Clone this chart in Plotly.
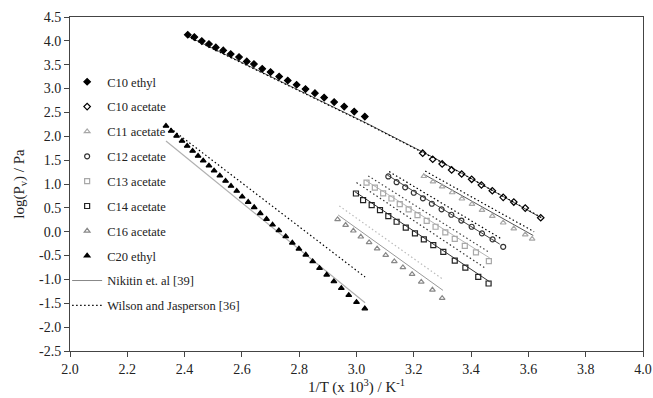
import plotly.graph_objects as go

# ---------------- data ----------------
c10e_x = [2.411, 2.434, 2.460, 2.485, 2.509, 2.535, 2.561, 2.590, 2.617, 2.642, 2.671,
          2.700, 2.730, 2.760, 2.791, 2.822, 2.855, 2.887, 2.922, 2.957, 2.992, 3.029]
c10e_y = [4.128, 4.080, 3.996, 3.933, 3.862, 3.799, 3.723, 3.660, 3.568, 3.513, 3.414,
          3.345, 3.253, 3.169, 3.080, 2.990, 2.904, 2.812, 2.718, 2.623, 2.518, 2.413]

c10a_x = [3.231, 3.266, 3.299, 3.332, 3.367, 3.402, 3.436, 3.474, 3.512, 3.549, 3.589, 3.643]
c10a_y = [1.645, 1.519, 1.420, 1.294, 1.210, 1.099, 0.979, 0.859, 0.721, 0.622, 0.496, 0.293]

c11_x = [3.235, 3.267, 3.299, 3.334, 3.368, 3.403, 3.438, 3.474, 3.512, 3.549, 3.589, 3.613]
c11_y = [1.162, 1.048, 0.944, 0.822, 0.691, 0.580, 0.454, 0.328, 0.188, 0.066, -0.060, -0.150]

c12_x = [3.111, 3.140, 3.170, 3.200, 3.232, 3.263, 3.297, 3.331, 3.366, 3.402, 3.438, 3.475, 3.512]
c12_y = [1.158, 1.038, 0.931, 0.817, 0.700, 0.586, 0.469, 0.356, 0.234, 0.104, -0.035, -0.161, -0.316]

c13_x = [3.035, 3.064, 3.093, 3.122, 3.151, 3.182, 3.213, 3.245, 3.276, 3.310, 3.343, 3.378, 3.417, 3.462]
c13_y = [1.027, 0.922, 0.805, 0.696, 0.580, 0.469, 0.349, 0.227, 0.104, -0.014, -0.148, -0.295, -0.434, -0.617]

c14_x = [2.998, 3.023, 3.053, 3.082, 3.111, 3.140, 3.172, 3.204, 3.235, 3.268, 3.303, 3.343, 3.380, 3.425, 3.461]
c14_y = [0.801, 0.664, 0.559, 0.454, 0.328, 0.209, 0.087, -0.035, -0.159, -0.281, -0.421, -0.606, -0.753, -0.946, -1.085]

c16_x = [2.934, 2.962, 2.989, 3.015, 3.044, 3.072, 3.102, 3.132, 3.162, 3.194, 3.226, 3.265, 3.299]
c16_y = [0.259, 0.139, 0.020, -0.106, -0.224, -0.354, -0.491, -0.623, -0.749, -0.889, -1.051, -1.217, -1.393]

c20_x = [2.335, 2.353, 2.372, 2.391, 2.409, 2.428, 2.447, 2.465, 2.485, 2.503, 2.523,
         2.543, 2.562, 2.582, 2.601, 2.622, 2.643, 2.664, 2.686, 2.707, 2.729, 2.753,
         2.776, 2.799, 2.823, 2.847, 2.871, 2.896, 2.921, 2.947, 2.973, 3.000, 3.029]
c20_y = [2.218, 2.113, 2.008, 1.903, 1.798, 1.693, 1.588, 1.489, 1.384, 1.279, 1.174,
         1.063, 0.958, 0.853, 0.733, 0.622, 0.511, 0.385, 0.265, 0.146, 0.028, -0.098,
         -0.232, -0.358, -0.484, -0.623, -0.763, -0.904, -1.043, -1.183, -1.330, -1.477, -1.610]

# Nikitin et al. (solid) predictions
nik_c10_x = [2.41, 2.77, 3.03, 3.28, 3.645]
nik_c10_y = [4.10, 3.04, 2.29, 1.52, 0.29]
nik_c11_x = [3.233, 3.617]; nik_c11_y = [1.21, -0.08]
nik_c12_x = [3.107, 3.500]; nik_c12_y = [1.19, -0.26]
nik_c13_x = [3.033, 3.465]; nik_c13_y = [1.07, -0.55]
nik_c14_x = [2.994, 3.465]; nik_c14_y = [0.84, -1.05]
nik_c16_x = [2.936, 3.302]; nik_c16_y = [0.35, -1.23]
nik_c20_x = [2.335, 3.030]; nik_c20_y = [1.90, -1.49]

# Wilson and Jasperson (dotted) predictions
wil_c10_x = [2.41, 2.77, 3.03, 3.28, 3.645]
wil_c10_y = [4.09, 3.03, 2.28, 1.51, 0.30]
wil_c11_x = [3.240, 3.620]; wil_c11_y = [1.27, 0.00]
wil_c12_x = [3.114, 3.506]; wil_c12_y = [1.26, -0.15]
wil_c13_x = [3.041, 3.460]; wil_c13_y = [1.17, -0.42]
wil_c14_x = [3.000, 3.446]; wil_c14_y = [1.03, -0.75]
wil_c16_x = [2.940, 3.300]; wil_c16_y = [0.54, -0.99]
wil_c20_x = [2.350, 3.030]; wil_c20_y = [2.17, -0.95]

x_ticks = [2.0, 2.2, 2.4, 2.6, 2.8, 3.0, 3.2, 3.4, 3.6, 3.8, 4.0]
x_tick_labels = ["2.0", "2.2", "2.4", "2.6", "2.8", "3.0", "3.2", "3.4", "3.6", "3.8", "4.0"]
y_ticks = [4.5, 4.0, 3.5, 3.0, 2.5, 2.0, 1.5, 1.0, 0.5, 0.0, -0.5, -1.0, -1.5, -2.0, -2.5]
y_tick_labels = ["4.5", "4.0", "3.5", "3.0", "2.5", "2.0", "1.5", "1.0", "0.5", "0.0",
                 "-0.5", "-1.0", "-1.5", "-2.0", "-2.5"]

FONT = "Liberation Serif, Times New Roman, serif"

fig = go.Figure()

# prediction lines (drawn first, under markers)
line_sets = [
    (nik_c10_x, nik_c10_y, "#555555", "solid", 1.0),
    (wil_c10_x, wil_c10_y, "#000000", "1.5px,2.5px", 1.2),
    (nik_c11_x, nik_c11_y, "#555555", "solid", 1.0),
    (wil_c11_x, wil_c11_y, "#000000", "1.5px,2.5px", 1.2),
    (nik_c12_x, nik_c12_y, "#444444", "solid", 1.0),
    (wil_c12_x, wil_c12_y, "#000000", "1.5px,2.5px", 1.2),
    (nik_c13_x, nik_c13_y, "#b5b5b5", "solid", 1.0),
    (wil_c13_x, wil_c13_y, "#444444", "1.5px,2.5px", 1.2),
    (nik_c14_x, nik_c14_y, "#333333", "solid", 1.0),
    (wil_c14_x, wil_c14_y, "#333333", "1.5px,2.5px", 1.2),
    (nik_c16_x, nik_c16_y, "#999999", "solid", 1.0),
    (wil_c16_x, wil_c16_y, "#bbbbbb", "1.5px,2.5px", 1.2),
    (nik_c20_x, nik_c20_y, "#b0b0b0", "solid", 1.2),
    (wil_c20_x, wil_c20_y, "#000000", "1.5px,2.5px", 1.2),
]
for xs, ys, col, dash, w in line_sets:
    fig.add_trace(go.Scatter(x=xs, y=ys, mode="lines",
                             line=dict(color=col, dash=dash, width=w),
                             showlegend=False, hoverinfo="skip"))

# legend entries for the line styles
fig.add_trace(go.Scatter(x=[None], y=[None], mode="lines", name="Nikitin et. al [39]",
                         line=dict(color="#888888", width=1), legendgroup="g9", legendrank=9))
fig.add_trace(go.Scatter(x=[None], y=[None], mode="lines", name="Wilson and Jasperson [36]",
                         line=dict(color="#000000", width=1.2, dash="1.5px,2.5px"),
                         legendgroup="g10", legendrank=10))

series = [
    ("C10 ethyl", c10e_x, c10e_y, "diamond", "#000000", "#000000", 5),
    ("C10 acetate", c10a_x, c10a_y, "diamond-open", "#000000", "#000000", 5),
    ("C11 acetate", c11_x, c11_y, "triangle-up-open", "#a8a8a8", "#a8a8a8", 5),
    ("C12 acetate", c12_x, c12_y, "circle-open", "#333333", "#333333", 5),
    ("C13 acetate", c13_x, c13_y, "square-open", "#a8a8a8", "#a8a8a8", 5),
    ("C14 acetate", c14_x, c14_y, "square-open", "#222222", "#222222", 5),
    ("C16 acetate", c16_x, c16_y, "triangle-up-open", "#888888", "#888888", 5),
    ("C20 ethyl", c20_x, c20_y, "triangle-up", "#000000", "#000000", 5),
]
for i, (name, xs, ys, sym, col, lc, sz) in enumerate(series):
    fig.add_trace(go.Scatter(x=xs, y=ys, mode="markers", name=name,
                             marker=dict(symbol=sym, color=col, size=sz,
                                         line=dict(color=lc, width=1.2)),
                             legendgroup="g%d" % (i + 1), legendrank=i + 1))

fig.update_layout(
    width=653, height=398,
    margin=dict(l=70, r=10, t=17, b=47),
    paper_bgcolor="white", plot_bgcolor="white",
    font=dict(family=FONT, size=14, color="#222222"),
    showlegend=True,
    legend=dict(x=-0.005, xanchor="left", y=0.85, yanchor="top",
                font=dict(family=FONT, size=12.5, color="#222222"),
                bgcolor="rgba(0,0,0,0)", traceorder="grouped", tracegroupgap=5.6,
                itemwidth=30),
    xaxis=dict(range=[2.0, 4.0], tickmode="array", tickvals=x_ticks, ticktext=x_tick_labels,
               ticks="outside", ticklen=5, tickcolor="#444444", showline=True, mirror=True,
               linecolor="#444444", linewidth=1, showgrid=False, zeroline=False,
               tickfont=dict(size=14), automargin=False,
               title=dict(text="1/T (x 10<sup>3</sup>) / K<sup>-1</sup>", font=dict(size=15), standoff=0)),
    yaxis=dict(range=[-2.5, 4.5], tickmode="array", tickvals=y_ticks, ticktext=y_tick_labels,
               ticks="outside", ticklen=5, tickcolor="#444444", showline=True, mirror=True,
               linecolor="#444444", linewidth=1, showgrid=False, zeroline=False,
               tickfont=dict(size=14), automargin=False,
               title=dict(text="log(P<sub>v</sub>) / Pa", font=dict(size=15), standoff=10)),
)

fig.write_html("out.html", config={"displayModeBar": False},
               post_script="document.body.style.margin='0';")
